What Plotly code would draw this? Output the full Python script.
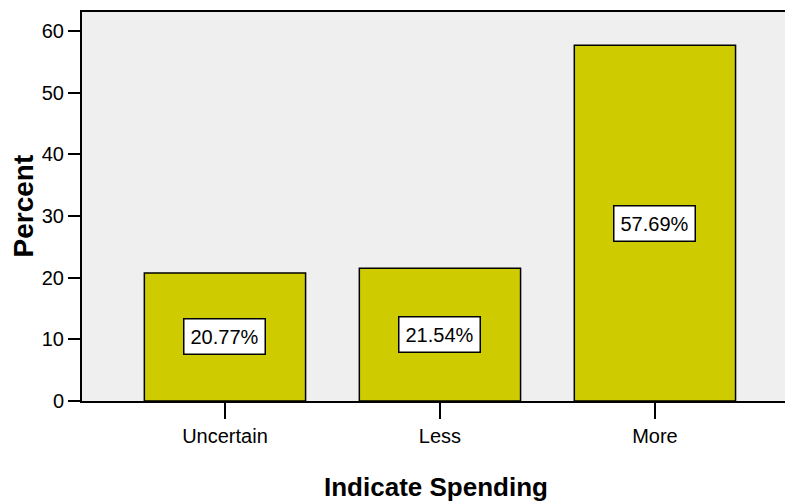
import plotly.graph_objects as go

categories = ["Uncertain", "Less", "More"]
percents = [20.77, 21.54, 57.69]
labels = ["20.77%", "21.54%", "57.69%"]
y_ticks = [0, 10, 20, 30, 40, 50, 60]

FONT = "Liberation Sans, Arial, sans-serif"

fig = go.Figure()
fig.add_trace(go.Bar(
    x=categories, y=percents, width=0.75,
    marker=dict(color="#cecc00", line=dict(color="black", width=1.5)),
    hoverinfo="skip",
))

annotations = []
for c, v, t in zip(categories, percents, labels):
    annotations.append(dict(
        x=c, y=v / 2, xref="x", yref="y", text=t, showarrow=False,
        font=dict(family=FONT, size=20, color="black"),
        bgcolor="white", bordercolor="black", borderwidth=1.5, borderpad=6,
    ))

annotations.append(dict(
    x=0, y=0.5, xref="paper", yref="paper", text="<b>Percent</b>", showarrow=False,
    textangle=-90, xanchor="center", yanchor="middle", xshift=-59,
    font=dict(family=FONT, size=28, color="black"),
))
annotations.append(dict(
    x=1, y=0, xref="x", yref="paper", text="<b>Indicate Spending</b>", showarrow=False,
    xanchor="center", yanchor="middle", yshift=-86, xshift=-4,
    font=dict(family=FONT, size=26, color="black"),
))

fig.update_layout(
    width=785, height=504,
    margin=dict(l=82, r=0, t=12, b=103),
    paper_bgcolor="white", plot_bgcolor="#efefef",
    showlegend=False,
    annotations=annotations,
    xaxis=dict(
        range=[-0.665, 2.605], showgrid=False, zeroline=False,
        showline=True, linecolor="black", linewidth=2, mirror=True,
        ticks="outside", ticklen=16, tickwidth=2, tickcolor="black",
        tickfont=dict(family=FONT, size=20, color="black"),
    ),
    yaxis=dict(
        range=[0, 63.08], showgrid=False, zeroline=False,
        tickvals=y_ticks,
        showline=True, linecolor="black", linewidth=2,
        ticks="outside", ticklen=12, tickwidth=2, tickcolor="black",
        tickfont=dict(family=FONT, size=20, color="black"),
    ),
)

fig.write_html(
    "out.html",
    config={"displayModeBar": False},
    post_script="document.body.style.margin='0';document.body.style.overflow='hidden';",
)
